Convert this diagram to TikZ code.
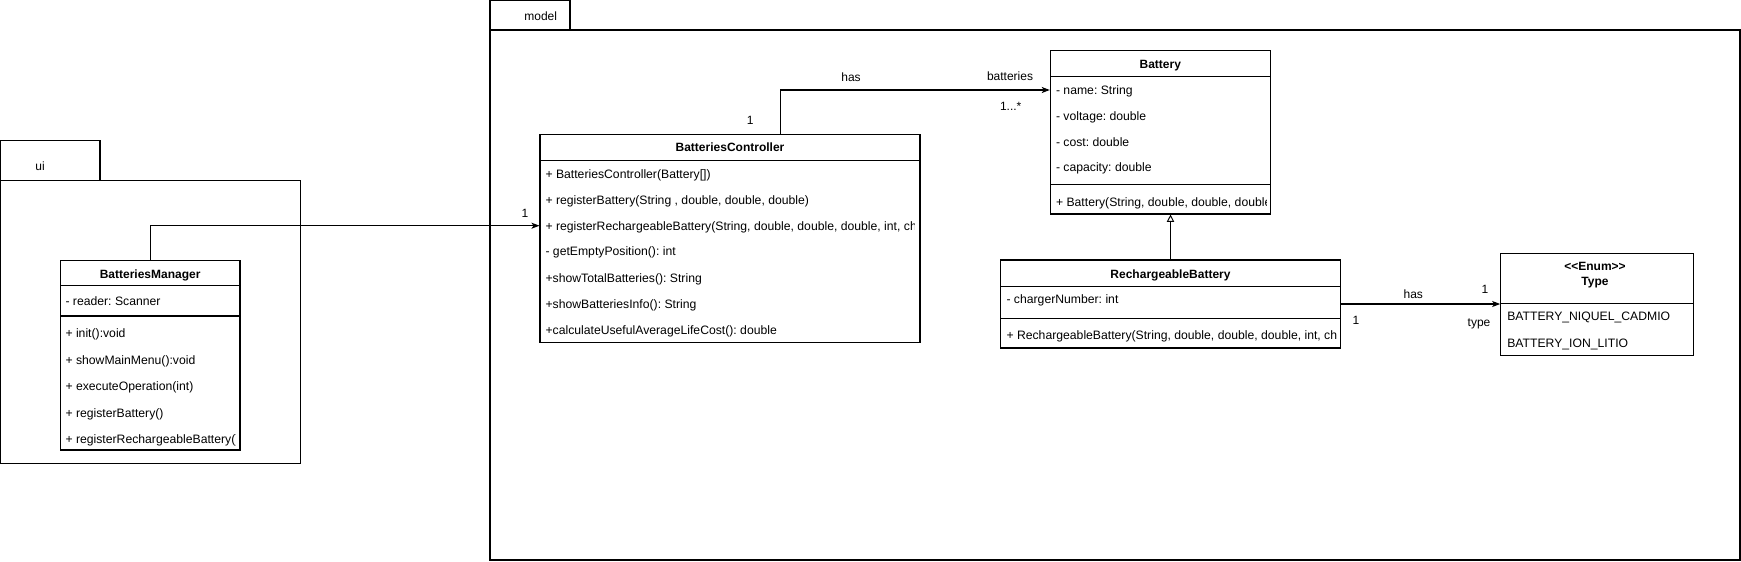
\documentclass[tikz,border=0pt]{standalone}
\usepackage{fontspec}
\setmainfont{Liberation Sans}
\usetikzlibrary{arrows.meta,fit}
\frenchspacing
\begin{document}
\begin{tikzpicture}[x=0.75pt,y=-0.75pt,
  font=\fontsize{9pt}{11pt}\selectfont, line width=0.8pt,
  box/.style={draw, inner sep=0pt, line width=0.8pt},
  row/.style={anchor=west, inner sep=0pt, text height=6.5pt, text depth=0pt, font=\fontsize{9.15pt}{11pt}\selectfont},
  ttl/.style={inner sep=0pt, text height=6.5pt, text depth=0pt, font=\fontsize{9pt}{11pt}\selectfont\bfseries},
  lbl/.style={inner sep=0pt, text height=6.5pt, text depth=0pt},
  assoc/.style={-{Stealth[length=6pt,width=4.5pt,inset=1.5pt]}},
  gen/.style={-{Triangle[open,length=5.5pt,width=5.5pt,fill=white]}, line width=0.7pt}]
\useasboundingbox (0,0) rectangle (1741,561);

% packages
\draw (0.6,140.3) rectangle (100,180.3);
\draw (0.6,180.3) rectangle (300.7,463.3);
\node[lbl] (uilbl) at (40,165.7) {ui};
\draw (490,0.6) rectangle (570,30);
\draw (490,30) rectangle (1740,560);
\node[lbl] (modellbl) at (540.7,15.7) {model};

% BatteriesManager
\node[box, fit={(60.3,260.3) (240,450)}] (bm) {};
\draw (60.3,285.7) -- (240,285.7);
\draw (60.3,316) -- (240,316);
\node[ttl] (bmt) at (150.15,274) {BatteriesManager};
\begin{scope}
\clip (bm.north west) rectangle ([xshift=-4.1pt]bm.south east);
\node[row] (bm0) at (65,300.7) {- reader: Scanner};
\node[row] (bm1) at (65,333.3) {+ init():void};
\node[row] (bm2) at (65,360) {+ showMainMenu():void};
\node[row] (bm3) at (65,386.3) {+ executeOperation(int)};
\node[row] (bm4) at (65,412.7) {+ registerBattery()};
\node[row] (bm5) at (65,439) {+ registerRechargeableBattery()};
\end{scope}

% BatteriesController
\node[box, fit={(540,134.3) (920,342.3)}] (bc) {};
\draw (540,160.3) -- (920,160.3);
\node[ttl] (bct) at (730,147.3) {BatteriesController};
\begin{scope}
\clip (bc.north west) rectangle ([xshift=-4.5pt]bc.south east);
\node[row] (bc1) at (545,173.7) {+ BatteriesController(Battery[])};
\node[row] (bc2) at (545,200) {+ registerBattery(String , double, double, double)};
\node[row] (bc3) at (545,225.7) {+ registerRechargeableBattery(String, double, double, double, int, char)};
\node[row] (bc4) at (545,251.3) {- getEmptyPosition(): int};
\node[row] (bc5) at (545,277.7) {+showTotalBatteries(): String};
\node[row] (bc6) at (545,303.7) {+showBatteriesInfo(): String};
\node[row] (bc7) at (545,329.7) {+calculateUsefulAverageLifeCost(): double};
\end{scope}

% Battery
\node[box, fit={(1050.3,50.7) (1270.3,214)}] (bat) {};
\draw (1050.3,76.3) -- (1270.3,76.3);
\draw (1050.3,184.3) -- (1270.3,184.3);
\node[ttl] (batt) at (1160.3,63.7) {Battery};
\begin{scope}
\clip (bat.north west) rectangle ([xshift=-3.2pt]bat.south east);
\node[row] (bat1) at (1055.5,90) {- name: String};
\node[row] (bat2) at (1055.5,116) {- voltage: double};
\node[row] (bat3) at (1055.5,141.7) {- cost: double};
\node[row] (bat4) at (1055.5,167.3) {- capacity: double};
\node[row] (bat5) at (1055.5,201.7) {+ Battery(String, double, double, double)};
\end{scope}

% RechargeableBattery
\node[box, fit={(1000.7,260) (1340.3,348)}] (rb) {};
\draw (1000.7,286.3) -- (1340.3,286.3);
\draw (1000.7,318.3) -- (1340.3,318.3);
\node[ttl] (rbt) at (1170.5,273.7) {RechargeableBattery};
\begin{scope}
\clip (rb.north west) rectangle ([xshift=-3.2pt]rb.south east);
\node[row] (rb1) at (1006,299.3) {- chargerNumber: int};
\node[row] (rb2) at (1006,335.3) {+ RechargeableBattery(String, double, double, double, int, char)};
\end{scope}

% Type enum
\node[box, fit={(1500.7,253.3) (1693.3,355.7)}] (ty) {};
\draw (1500.7,303.3) -- (1693.3,303.3);
\node[ttl] (tyt1) at (1595,266) {<\kern0pt<Enum>\kern0pt>};
\node[ttl] (tyt2) at (1595,280.7) {Type};
\node[row] (ty1) at (1506.7,316) {BATTERY\_NIQUEL\_CADMIO};
\node[row] (ty2) at (1506.7,343.3) {BATTERY\_ION\_LITIO};

% connectors
\draw[assoc] (bm.north) |- (bc.west |- bc3.west);
\draw[assoc] ([xshift=37.7pt]bc.north) |- (bat.west |- bat1.west);
\draw[gen] (rb.north) -- (rb.north |- bat.south);
\draw[assoc] (rb.east) -- (rb.east -| ty.west);

% labels
\node[lbl] (l1) at (525,213.3) {1};
\node[lbl] (l2) at (750.3,120) {1};
\node[lbl] (l3) at (851,77) {has};
\node[lbl] (l4) at (1010,75.7) {batteries};
\node[lbl] (l5) at (1010.7,106) {1...*};
\node[lbl] (l6) at (1413.3,294) {has};
\node[lbl] (l7) at (1485,289.3) {1};
\node[lbl] (l8) at (1479,321.7) {type};
\node[lbl] (l9) at (1356,320) {1};
\end{tikzpicture}
\end{document}
